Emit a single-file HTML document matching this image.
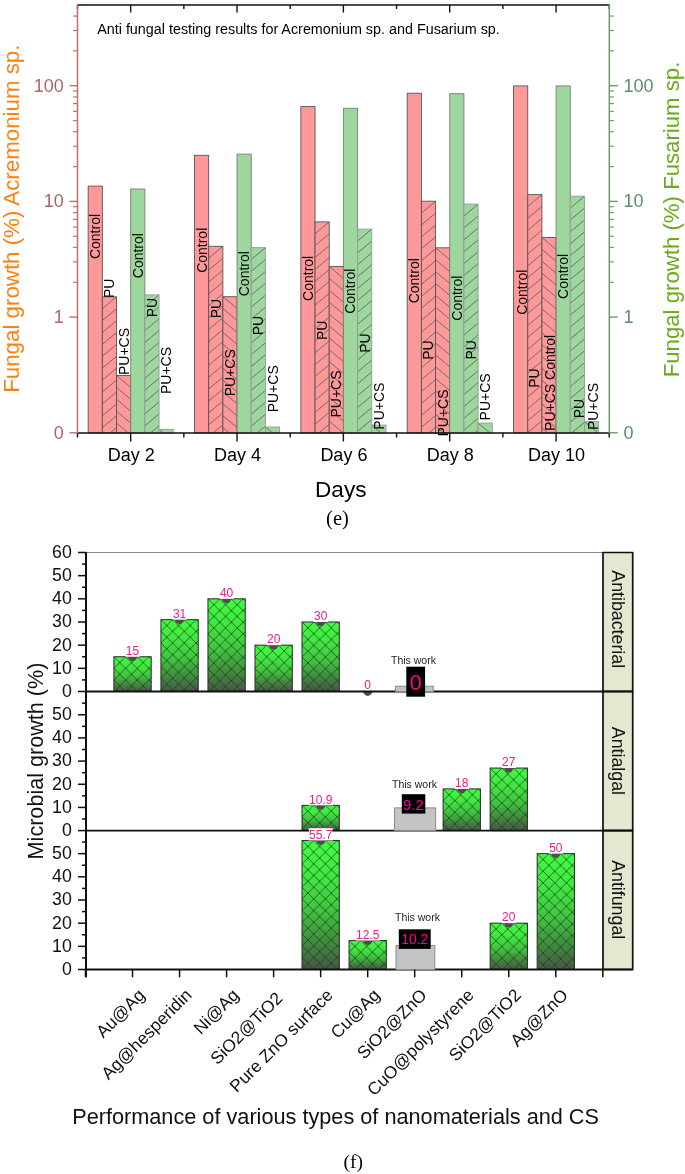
<!DOCTYPE html>
<html><head><meta charset="utf-8"><style>
html,body{margin:0;padding:0;background:#fff;overflow:hidden;width:685px;height:1174px;}
svg{display:block;will-change:transform;}
text{font-family:"Liberation Sans", sans-serif;}
</style></head><body>
<svg width="685" height="1174" viewBox="0 0 685 1174" font-family='"Liberation Sans", sans-serif'>
<defs><clipPath id="c01"><rect x="102.34" y="296.8" width="14.18" height="136.2"/></clipPath><clipPath id="c02"><rect x="116.52" y="375.5" width="14.18" height="57.5"/></clipPath><clipPath id="c04"><rect x="144.88" y="294.9" width="14.18" height="138.1"/></clipPath><clipPath id="c05"><rect x="159.06" y="429.3" width="14.18" height="3.7"/></clipPath><clipPath id="c11"><rect x="208.69" y="246.3" width="14.18" height="186.7"/></clipPath><clipPath id="c12"><rect x="222.87" y="296.7" width="14.18" height="136.3"/></clipPath><clipPath id="c14"><rect x="251.23" y="247.6" width="14.18" height="185.4"/></clipPath><clipPath id="c15"><rect x="265.41" y="427" width="14.18" height="6"/></clipPath><clipPath id="c21"><rect x="315.04" y="221.9" width="14.18" height="211.1"/></clipPath><clipPath id="c22"><rect x="329.22" y="266.5" width="14.18" height="166.5"/></clipPath><clipPath id="c24"><rect x="357.58" y="229.1" width="14.18" height="203.9"/></clipPath><clipPath id="c25"><rect x="371.76" y="425.1" width="14.18" height="7.9"/></clipPath><clipPath id="c31"><rect x="421.39" y="201.2" width="14.18" height="231.8"/></clipPath><clipPath id="c32"><rect x="435.57" y="247.8" width="14.18" height="185.2"/></clipPath><clipPath id="c34"><rect x="463.93" y="204.1" width="14.18" height="228.9"/></clipPath><clipPath id="c35"><rect x="478.11" y="423.1" width="14.18" height="9.9"/></clipPath><clipPath id="c41"><rect x="527.74" y="194.6" width="14.18" height="238.4"/></clipPath><clipPath id="c42"><rect x="541.92" y="237.5" width="14.18" height="195.5"/></clipPath><clipPath id="c44"><rect x="570.28" y="196.2" width="14.18" height="236.8"/></clipPath><clipPath id="c45"><rect x="584.46" y="421.6" width="14.18" height="11.4"/></clipPath><linearGradient id="gg" x1="0" y1="0" x2="0" y2="1"><stop offset="0" stop-color="#42fc42"/><stop offset="0.3" stop-color="#41e441"/><stop offset="0.55" stop-color="#40c440"/><stop offset="0.8" stop-color="#42883f"/><stop offset="1" stop-color="#485548"/></linearGradient><pattern id="xh" patternUnits="userSpaceOnUse" width="11.7" height="11.7" x="0.7" y="-2.5"><path d="M0 0L11.7 11.7M11.7 0L0 11.7M-1 1L1 -1M10.7 12.7L12.7 10.7M-1 10.7L1 12.7M10.7 -1L12.7 1" stroke="#1a3a1a" stroke-width="0.72" fill="none"/></pattern><pattern id="xh0_0" patternUnits="userSpaceOnUse" width="11.7" height="11.7" x="113.9" y="656.75"><path d="M0 0L11.7 11.7M11.7 0L0 11.7M-1 1L1 -1M10.7 12.7L12.7 10.7M-1 10.7L1 12.7M10.7 -1L12.7 1" stroke="#1a3a1a" stroke-width="0.72" fill="none"/></pattern><pattern id="xh0_1" patternUnits="userSpaceOnUse" width="11.7" height="11.7" x="160.93" y="619.67"><path d="M0 0L11.7 11.7M11.7 0L0 11.7M-1 1L1 -1M10.7 12.7L12.7 10.7M-1 10.7L1 12.7M10.7 -1L12.7 1" stroke="#1a3a1a" stroke-width="0.72" fill="none"/></pattern><pattern id="xh0_2" patternUnits="userSpaceOnUse" width="11.7" height="11.7" x="207.96" y="598.82"><path d="M0 0L11.7 11.7M11.7 0L0 11.7M-1 1L1 -1M10.7 12.7L12.7 10.7M-1 10.7L1 12.7M10.7 -1L12.7 1" stroke="#1a3a1a" stroke-width="0.72" fill="none"/></pattern><pattern id="xh0_3" patternUnits="userSpaceOnUse" width="11.7" height="11.7" x="254.99" y="645.16"><path d="M0 0L11.7 11.7M11.7 0L0 11.7M-1 1L1 -1M10.7 12.7L12.7 10.7M-1 10.7L1 12.7M10.7 -1L12.7 1" stroke="#1a3a1a" stroke-width="0.72" fill="none"/></pattern><pattern id="xh0_4" patternUnits="userSpaceOnUse" width="11.7" height="11.7" x="302.02" y="621.99"><path d="M0 0L11.7 11.7M11.7 0L0 11.7M-1 1L1 -1M10.7 12.7L12.7 10.7M-1 10.7L1 12.7M10.7 -1L12.7 1" stroke="#1a3a1a" stroke-width="0.72" fill="none"/></pattern><pattern id="xh1_4" patternUnits="userSpaceOnUse" width="11.7" height="11.7" x="302.02" y="805.34"><path d="M0 0L11.7 11.7M11.7 0L0 11.7M-1 1L1 -1M10.7 12.7L12.7 10.7M-1 10.7L1 12.7M10.7 -1L12.7 1" stroke="#1a3a1a" stroke-width="0.72" fill="none"/></pattern><pattern id="xh1_7" patternUnits="userSpaceOnUse" width="11.7" height="11.7" x="443.11" y="788.89"><path d="M0 0L11.7 11.7M11.7 0L0 11.7M-1 1L1 -1M10.7 12.7L12.7 10.7M-1 10.7L1 12.7M10.7 -1L12.7 1" stroke="#1a3a1a" stroke-width="0.72" fill="none"/></pattern><pattern id="xh1_8" patternUnits="userSpaceOnUse" width="11.7" height="11.7" x="490.14" y="768.04"><path d="M0 0L11.7 11.7M11.7 0L0 11.7M-1 1L1 -1M10.7 12.7L12.7 10.7M-1 10.7L1 12.7M10.7 -1L12.7 1" stroke="#1a3a1a" stroke-width="0.72" fill="none"/></pattern><pattern id="xh2_4" patternUnits="userSpaceOnUse" width="11.7" height="11.7" x="302.02" y="840.44"><path d="M0 0L11.7 11.7M11.7 0L0 11.7M-1 1L1 -1M10.7 12.7L12.7 10.7M-1 10.7L1 12.7M10.7 -1L12.7 1" stroke="#1a3a1a" stroke-width="0.72" fill="none"/></pattern><pattern id="xh2_5" patternUnits="userSpaceOnUse" width="11.7" height="11.7" x="349.05" y="940.54"><path d="M0 0L11.7 11.7M11.7 0L0 11.7M-1 1L1 -1M10.7 12.7L12.7 10.7M-1 10.7L1 12.7M10.7 -1L12.7 1" stroke="#1a3a1a" stroke-width="0.72" fill="none"/></pattern><pattern id="xh2_8" patternUnits="userSpaceOnUse" width="11.7" height="11.7" x="490.14" y="923.16"><path d="M0 0L11.7 11.7M11.7 0L0 11.7M-1 1L1 -1M10.7 12.7L12.7 10.7M-1 10.7L1 12.7M10.7 -1L12.7 1" stroke="#1a3a1a" stroke-width="0.72" fill="none"/></pattern><pattern id="xh2_9" patternUnits="userSpaceOnUse" width="11.7" height="11.7" x="537.17" y="853.65"><path d="M0 0L11.7 11.7M11.7 0L0 11.7M-1 1L1 -1M10.7 12.7L12.7 10.7M-1 10.7L1 12.7M10.7 -1L12.7 1" stroke="#1a3a1a" stroke-width="0.72" fill="none"/></pattern></defs>
<rect width="685" height="1174" fill="#fff"/>
<g id="top">
<rect x="88.16" y="186.1" width="14.18" height="246.9" fill="#ff9898"/>
<rect x="88.16" y="186.1" width="14.18" height="246.9" fill="none" stroke="#555" stroke-width="0.9"/>
<rect x="102.34" y="296.8" width="14.18" height="136.2" fill="#ff9898"/>
<path d="M102.34 296.8L116.52 284.9M102.34 308.7L116.52 296.8M102.34 320.6L116.52 308.7M102.34 332.5L116.52 320.6M102.34 344.4L116.52 332.5M102.34 356.3L116.52 344.4M102.34 368.2L116.52 356.3M102.34 380.1L116.52 368.2M102.34 392L116.52 380.1M102.34 403.9L116.52 392M102.34 415.8L116.52 403.9M102.34 427.7L116.52 415.8M102.34 439.6L116.52 427.7M102.34 451.5L116.52 439.6" stroke="#5a5a5a" stroke-width="0.8" fill="none" clip-path="url(#c01)"/>
<rect x="102.34" y="296.8" width="14.18" height="136.2" fill="none" stroke="#555" stroke-width="0.9"/>
<rect x="116.52" y="375.5" width="14.18" height="57.5" fill="#ff9898"/>
<path d="M116.52 363.6L130.7 375.5M116.52 375.5L130.7 387.4M116.52 387.4L130.7 399.3M116.52 399.3L130.7 411.2M116.52 411.2L130.7 423.1M116.52 423.1L130.7 435M116.52 435L130.7 446.9" stroke="#5a5a5a" stroke-width="0.8" fill="none" clip-path="url(#c02)"/>
<rect x="116.52" y="375.5" width="14.18" height="57.5" fill="none" stroke="#555" stroke-width="0.9"/>
<rect x="130.7" y="189" width="14.18" height="244" fill="#9dd79d"/>
<rect x="130.7" y="189" width="14.18" height="244" fill="none" stroke="#7c7c7c" stroke-width="0.9"/>
<rect x="144.88" y="294.9" width="14.18" height="138.1" fill="#9dd79d"/>
<path d="M144.88 294.9L159.06 283M144.88 306.8L159.06 294.9M144.88 318.7L159.06 306.8M144.88 330.6L159.06 318.7M144.88 342.5L159.06 330.6M144.88 354.4L159.06 342.5M144.88 366.3L159.06 354.4M144.88 378.2L159.06 366.3M144.88 390.1L159.06 378.2M144.88 402L159.06 390.1M144.88 413.9L159.06 402M144.88 425.8L159.06 413.9M144.88 437.7L159.06 425.8M144.88 449.6L159.06 437.7" stroke="#5a5a5a" stroke-width="0.8" fill="none" clip-path="url(#c04)"/>
<rect x="144.88" y="294.9" width="14.18" height="138.1" fill="none" stroke="#9a9a9a" stroke-width="0.9"/>
<rect x="159.06" y="429.3" width="14.18" height="3.7" fill="#9dd79d"/>
<path d="M159.06 417.4L173.24 429.3M159.06 429.3L173.24 441.2M159.06 441.2L173.24 453.1" stroke="#5a5a5a" stroke-width="0.8" fill="none" clip-path="url(#c05)"/>
<rect x="159.06" y="429.3" width="14.18" height="3.7" fill="none" stroke="#9a9a9a" stroke-width="0.9"/>
<rect x="194.51" y="155.3" width="14.18" height="277.7" fill="#ff9898"/>
<rect x="194.51" y="155.3" width="14.18" height="277.7" fill="none" stroke="#555" stroke-width="0.9"/>
<rect x="208.69" y="246.3" width="14.18" height="186.7" fill="#ff9898"/>
<path d="M208.69 246.3L222.87 234.4M208.69 258.2L222.87 246.3M208.69 270.1L222.87 258.2M208.69 282L222.87 270.1M208.69 293.9L222.87 282M208.69 305.8L222.87 293.9M208.69 317.7L222.87 305.8M208.69 329.6L222.87 317.7M208.69 341.5L222.87 329.6M208.69 353.4L222.87 341.5M208.69 365.3L222.87 353.4M208.69 377.2L222.87 365.3M208.69 389.1L222.87 377.2M208.69 401L222.87 389.1M208.69 412.9L222.87 401M208.69 424.8L222.87 412.9M208.69 436.7L222.87 424.8M208.69 448.6L222.87 436.7" stroke="#5a5a5a" stroke-width="0.8" fill="none" clip-path="url(#c11)"/>
<rect x="208.69" y="246.3" width="14.18" height="186.7" fill="none" stroke="#555" stroke-width="0.9"/>
<rect x="222.87" y="296.7" width="14.18" height="136.3" fill="#ff9898"/>
<path d="M222.87 284.8L237.05 296.7M222.87 296.7L237.05 308.6M222.87 308.6L237.05 320.5M222.87 320.5L237.05 332.4M222.87 332.4L237.05 344.3M222.87 344.3L237.05 356.2M222.87 356.2L237.05 368.1M222.87 368.1L237.05 380M222.87 380L237.05 391.9M222.87 391.9L237.05 403.8M222.87 403.8L237.05 415.7M222.87 415.7L237.05 427.6M222.87 427.6L237.05 439.5M222.87 439.5L237.05 451.4" stroke="#5a5a5a" stroke-width="0.8" fill="none" clip-path="url(#c12)"/>
<rect x="222.87" y="296.7" width="14.18" height="136.3" fill="none" stroke="#555" stroke-width="0.9"/>
<rect x="237.05" y="154.1" width="14.18" height="278.9" fill="#9dd79d"/>
<rect x="237.05" y="154.1" width="14.18" height="278.9" fill="none" stroke="#7c7c7c" stroke-width="0.9"/>
<rect x="251.23" y="247.6" width="14.18" height="185.4" fill="#9dd79d"/>
<path d="M251.23 247.6L265.41 235.7M251.23 259.5L265.41 247.6M251.23 271.4L265.41 259.5M251.23 283.3L265.41 271.4M251.23 295.2L265.41 283.3M251.23 307.1L265.41 295.2M251.23 319L265.41 307.1M251.23 330.9L265.41 319M251.23 342.8L265.41 330.9M251.23 354.7L265.41 342.8M251.23 366.6L265.41 354.7M251.23 378.5L265.41 366.6M251.23 390.4L265.41 378.5M251.23 402.3L265.41 390.4M251.23 414.2L265.41 402.3M251.23 426.1L265.41 414.2M251.23 438L265.41 426.1M251.23 449.9L265.41 438" stroke="#5a5a5a" stroke-width="0.8" fill="none" clip-path="url(#c14)"/>
<rect x="251.23" y="247.6" width="14.18" height="185.4" fill="none" stroke="#9a9a9a" stroke-width="0.9"/>
<rect x="265.41" y="427" width="14.18" height="6" fill="#9dd79d"/>
<path d="M265.41 415.1L279.59 427M265.41 427L279.59 438.9M265.41 438.9L279.59 450.8" stroke="#5a5a5a" stroke-width="0.8" fill="none" clip-path="url(#c15)"/>
<rect x="265.41" y="427" width="14.18" height="6" fill="none" stroke="#9a9a9a" stroke-width="0.9"/>
<rect x="300.86" y="106.6" width="14.18" height="326.4" fill="#ff9898"/>
<rect x="300.86" y="106.6" width="14.18" height="326.4" fill="none" stroke="#555" stroke-width="0.9"/>
<rect x="315.04" y="221.9" width="14.18" height="211.1" fill="#ff9898"/>
<path d="M315.04 221.9L329.22 210M315.04 233.8L329.22 221.9M315.04 245.7L329.22 233.8M315.04 257.6L329.22 245.7M315.04 269.5L329.22 257.6M315.04 281.4L329.22 269.5M315.04 293.3L329.22 281.4M315.04 305.2L329.22 293.3M315.04 317.1L329.22 305.2M315.04 329L329.22 317.1M315.04 340.9L329.22 329M315.04 352.8L329.22 340.9M315.04 364.7L329.22 352.8M315.04 376.6L329.22 364.7M315.04 388.5L329.22 376.6M315.04 400.4L329.22 388.5M315.04 412.3L329.22 400.4M315.04 424.2L329.22 412.3M315.04 436.1L329.22 424.2M315.04 448L329.22 436.1" stroke="#5a5a5a" stroke-width="0.8" fill="none" clip-path="url(#c21)"/>
<rect x="315.04" y="221.9" width="14.18" height="211.1" fill="none" stroke="#555" stroke-width="0.9"/>
<rect x="329.22" y="266.5" width="14.18" height="166.5" fill="#ff9898"/>
<path d="M329.22 254.6L343.4 266.5M329.22 266.5L343.4 278.4M329.22 278.4L343.4 290.3M329.22 290.3L343.4 302.2M329.22 302.2L343.4 314.1M329.22 314.1L343.4 326M329.22 326L343.4 337.9M329.22 337.9L343.4 349.8M329.22 349.8L343.4 361.7M329.22 361.7L343.4 373.6M329.22 373.6L343.4 385.5M329.22 385.5L343.4 397.4M329.22 397.4L343.4 409.3M329.22 409.3L343.4 421.2M329.22 421.2L343.4 433.1M329.22 433.1L343.4 445" stroke="#5a5a5a" stroke-width="0.8" fill="none" clip-path="url(#c22)"/>
<rect x="329.22" y="266.5" width="14.18" height="166.5" fill="none" stroke="#555" stroke-width="0.9"/>
<rect x="343.4" y="108.3" width="14.18" height="324.7" fill="#9dd79d"/>
<rect x="343.4" y="108.3" width="14.18" height="324.7" fill="none" stroke="#7c7c7c" stroke-width="0.9"/>
<rect x="357.58" y="229.1" width="14.18" height="203.9" fill="#9dd79d"/>
<path d="M357.58 229.1L371.76 217.2M357.58 241L371.76 229.1M357.58 252.9L371.76 241M357.58 264.8L371.76 252.9M357.58 276.7L371.76 264.8M357.58 288.6L371.76 276.7M357.58 300.5L371.76 288.6M357.58 312.4L371.76 300.5M357.58 324.3L371.76 312.4M357.58 336.2L371.76 324.3M357.58 348.1L371.76 336.2M357.58 360L371.76 348.1M357.58 371.9L371.76 360M357.58 383.8L371.76 371.9M357.58 395.7L371.76 383.8M357.58 407.6L371.76 395.7M357.58 419.5L371.76 407.6M357.58 431.4L371.76 419.5M357.58 443.3L371.76 431.4M357.58 455.2L371.76 443.3" stroke="#5a5a5a" stroke-width="0.8" fill="none" clip-path="url(#c24)"/>
<rect x="357.58" y="229.1" width="14.18" height="203.9" fill="none" stroke="#9a9a9a" stroke-width="0.9"/>
<rect x="371.76" y="425.1" width="14.18" height="7.9" fill="#9dd79d"/>
<path d="M371.76 413.2L385.94 425.1M371.76 425.1L385.94 437M371.76 437L385.94 448.9" stroke="#5a5a5a" stroke-width="0.8" fill="none" clip-path="url(#c25)"/>
<rect x="371.76" y="425.1" width="14.18" height="7.9" fill="none" stroke="#9a9a9a" stroke-width="0.9"/>
<rect x="407.21" y="93.2" width="14.18" height="339.8" fill="#ff9898"/>
<rect x="407.21" y="93.2" width="14.18" height="339.8" fill="none" stroke="#555" stroke-width="0.9"/>
<rect x="421.39" y="201.2" width="14.18" height="231.8" fill="#ff9898"/>
<path d="M421.39 201.2L435.57 189.3M421.39 213.1L435.57 201.2M421.39 225L435.57 213.1M421.39 236.9L435.57 225M421.39 248.8L435.57 236.9M421.39 260.7L435.57 248.8M421.39 272.6L435.57 260.7M421.39 284.5L435.57 272.6M421.39 296.4L435.57 284.5M421.39 308.3L435.57 296.4M421.39 320.2L435.57 308.3M421.39 332.1L435.57 320.2M421.39 344L435.57 332.1M421.39 355.9L435.57 344M421.39 367.8L435.57 355.9M421.39 379.7L435.57 367.8M421.39 391.6L435.57 379.7M421.39 403.5L435.57 391.6M421.39 415.4L435.57 403.5M421.39 427.3L435.57 415.4M421.39 439.2L435.57 427.3M421.39 451.1L435.57 439.2" stroke="#5a5a5a" stroke-width="0.8" fill="none" clip-path="url(#c31)"/>
<rect x="421.39" y="201.2" width="14.18" height="231.8" fill="none" stroke="#555" stroke-width="0.9"/>
<rect x="435.57" y="247.8" width="14.18" height="185.2" fill="#ff9898"/>
<path d="M435.57 235.9L449.75 247.8M435.57 247.8L449.75 259.7M435.57 259.7L449.75 271.6M435.57 271.6L449.75 283.5M435.57 283.5L449.75 295.4M435.57 295.4L449.75 307.3M435.57 307.3L449.75 319.2M435.57 319.2L449.75 331.1M435.57 331.1L449.75 343M435.57 343L449.75 354.9M435.57 354.9L449.75 366.8M435.57 366.8L449.75 378.7M435.57 378.7L449.75 390.6M435.57 390.6L449.75 402.5M435.57 402.5L449.75 414.4M435.57 414.4L449.75 426.3M435.57 426.3L449.75 438.2M435.57 438.2L449.75 450.1" stroke="#5a5a5a" stroke-width="0.8" fill="none" clip-path="url(#c32)"/>
<rect x="435.57" y="247.8" width="14.18" height="185.2" fill="none" stroke="#555" stroke-width="0.9"/>
<rect x="449.75" y="93.7" width="14.18" height="339.3" fill="#9dd79d"/>
<rect x="449.75" y="93.7" width="14.18" height="339.3" fill="none" stroke="#7c7c7c" stroke-width="0.9"/>
<rect x="463.93" y="204.1" width="14.18" height="228.9" fill="#9dd79d"/>
<path d="M463.93 204.1L478.11 192.2M463.93 216L478.11 204.1M463.93 227.9L478.11 216M463.93 239.8L478.11 227.9M463.93 251.7L478.11 239.8M463.93 263.6L478.11 251.7M463.93 275.5L478.11 263.6M463.93 287.4L478.11 275.5M463.93 299.3L478.11 287.4M463.93 311.2L478.11 299.3M463.93 323.1L478.11 311.2M463.93 335L478.11 323.1M463.93 346.9L478.11 335M463.93 358.8L478.11 346.9M463.93 370.7L478.11 358.8M463.93 382.6L478.11 370.7M463.93 394.5L478.11 382.6M463.93 406.4L478.11 394.5M463.93 418.3L478.11 406.4M463.93 430.2L478.11 418.3M463.93 442.1L478.11 430.2M463.93 454L478.11 442.1" stroke="#5a5a5a" stroke-width="0.8" fill="none" clip-path="url(#c34)"/>
<rect x="463.93" y="204.1" width="14.18" height="228.9" fill="none" stroke="#9a9a9a" stroke-width="0.9"/>
<rect x="478.11" y="423.1" width="14.18" height="9.9" fill="#9dd79d"/>
<path d="M478.11 411.2L492.29 423.1M478.11 423.1L492.29 435M478.11 435L492.29 446.9" stroke="#5a5a5a" stroke-width="0.8" fill="none" clip-path="url(#c35)"/>
<rect x="478.11" y="423.1" width="14.18" height="9.9" fill="none" stroke="#9a9a9a" stroke-width="0.9"/>
<rect x="513.56" y="85.9" width="14.18" height="347.1" fill="#ff9898"/>
<rect x="513.56" y="85.9" width="14.18" height="347.1" fill="none" stroke="#555" stroke-width="0.9"/>
<rect x="527.74" y="194.6" width="14.18" height="238.4" fill="#ff9898"/>
<path d="M527.74 194.6L541.92 182.7M527.74 206.5L541.92 194.6M527.74 218.4L541.92 206.5M527.74 230.3L541.92 218.4M527.74 242.2L541.92 230.3M527.74 254.1L541.92 242.2M527.74 266L541.92 254.1M527.74 277.9L541.92 266M527.74 289.8L541.92 277.9M527.74 301.7L541.92 289.8M527.74 313.6L541.92 301.7M527.74 325.5L541.92 313.6M527.74 337.4L541.92 325.5M527.74 349.3L541.92 337.4M527.74 361.2L541.92 349.3M527.74 373.1L541.92 361.2M527.74 385L541.92 373.1M527.74 396.9L541.92 385M527.74 408.8L541.92 396.9M527.74 420.7L541.92 408.8M527.74 432.6L541.92 420.7M527.74 444.5L541.92 432.6M527.74 456.4L541.92 444.5" stroke="#5a5a5a" stroke-width="0.8" fill="none" clip-path="url(#c41)"/>
<rect x="527.74" y="194.6" width="14.18" height="238.4" fill="none" stroke="#555" stroke-width="0.9"/>
<rect x="541.92" y="237.5" width="14.18" height="195.5" fill="#ff9898"/>
<path d="M541.92 225.6L556.1 237.5M541.92 237.5L556.1 249.4M541.92 249.4L556.1 261.3M541.92 261.3L556.1 273.2M541.92 273.2L556.1 285.1M541.92 285.1L556.1 297M541.92 297L556.1 308.9M541.92 308.9L556.1 320.8M541.92 320.8L556.1 332.7M541.92 332.7L556.1 344.6M541.92 344.6L556.1 356.5M541.92 356.5L556.1 368.4M541.92 368.4L556.1 380.3M541.92 380.3L556.1 392.2M541.92 392.2L556.1 404.1M541.92 404.1L556.1 416M541.92 416L556.1 427.9M541.92 427.9L556.1 439.8M541.92 439.8L556.1 451.7" stroke="#5a5a5a" stroke-width="0.8" fill="none" clip-path="url(#c42)"/>
<rect x="541.92" y="237.5" width="14.18" height="195.5" fill="none" stroke="#555" stroke-width="0.9"/>
<rect x="556.1" y="85.9" width="14.18" height="347.1" fill="#9dd79d"/>
<rect x="556.1" y="85.9" width="14.18" height="347.1" fill="none" stroke="#7c7c7c" stroke-width="0.9"/>
<rect x="570.28" y="196.2" width="14.18" height="236.8" fill="#9dd79d"/>
<path d="M570.28 196.2L584.46 184.3M570.28 208.1L584.46 196.2M570.28 220L584.46 208.1M570.28 231.9L584.46 220M570.28 243.8L584.46 231.9M570.28 255.7L584.46 243.8M570.28 267.6L584.46 255.7M570.28 279.5L584.46 267.6M570.28 291.4L584.46 279.5M570.28 303.3L584.46 291.4M570.28 315.2L584.46 303.3M570.28 327.1L584.46 315.2M570.28 339L584.46 327.1M570.28 350.9L584.46 339M570.28 362.8L584.46 350.9M570.28 374.7L584.46 362.8M570.28 386.6L584.46 374.7M570.28 398.5L584.46 386.6M570.28 410.4L584.46 398.5M570.28 422.3L584.46 410.4M570.28 434.2L584.46 422.3M570.28 446.1L584.46 434.2" stroke="#5a5a5a" stroke-width="0.8" fill="none" clip-path="url(#c44)"/>
<rect x="570.28" y="196.2" width="14.18" height="236.8" fill="none" stroke="#9a9a9a" stroke-width="0.9"/>
<rect x="584.46" y="421.6" width="14.18" height="11.4" fill="#9dd79d"/>
<path d="M584.46 409.7L598.64 421.6M584.46 421.6L598.64 433.5M584.46 433.5L598.64 445.4" stroke="#5a5a5a" stroke-width="0.8" fill="none" clip-path="url(#c45)"/>
<rect x="584.46" y="421.6" width="14.18" height="11.4" fill="none" stroke="#9a9a9a" stroke-width="0.9"/>
<text transform="translate(95.25,236.5) rotate(-90)" x="0" y="5" font-size="14" text-anchor="middle">Control</text>
<text transform="translate(109.43,288.25) rotate(-90)" x="0" y="5" font-size="14" text-anchor="middle">PU</text>
<text transform="translate(123.61,351.5) rotate(-90)" x="0" y="5" font-size="14" text-anchor="middle">PU+CS</text>
<text transform="translate(137.79,255.65) rotate(-90)" x="0" y="5" font-size="14" text-anchor="middle">Control</text>
<text transform="translate(151.97,307.5) rotate(-90)" x="0" y="5" font-size="14" text-anchor="middle">PU</text>
<text transform="translate(166.15,370.5) rotate(-90)" x="0" y="5" font-size="14" text-anchor="middle">PU+CS</text>
<text transform="translate(201.6,250.3) rotate(-90)" x="0" y="5" font-size="14" text-anchor="middle">Control</text>
<text transform="translate(215.78,308.65) rotate(-90)" x="0" y="5" font-size="14" text-anchor="middle">PU</text>
<text transform="translate(229.96,372.75) rotate(-90)" x="0" y="5" font-size="14" text-anchor="middle">PU+CS</text>
<text transform="translate(244.14,273.7) rotate(-90)" x="0" y="5" font-size="14" text-anchor="middle">Control</text>
<text transform="translate(258.32,325.55) rotate(-90)" x="0" y="5" font-size="14" text-anchor="middle">PU</text>
<text transform="translate(272.5,388.8) rotate(-90)" x="0" y="5" font-size="14" text-anchor="middle">PU+CS</text>
<text transform="translate(307.95,278.35) rotate(-90)" x="0" y="5" font-size="14" text-anchor="middle">Control</text>
<text transform="translate(322.13,330.35) rotate(-90)" x="0" y="5" font-size="14" text-anchor="middle">PU</text>
<text transform="translate(336.31,394) rotate(-90)" x="0" y="5" font-size="14" text-anchor="middle">PU+CS</text>
<text transform="translate(350.49,291.25) rotate(-90)" x="0" y="5" font-size="14" text-anchor="middle">Control</text>
<text transform="translate(364.67,343.05) rotate(-90)" x="0" y="5" font-size="14" text-anchor="middle">PU</text>
<text transform="translate(378.85,406.15) rotate(-90)" x="0" y="5" font-size="14" text-anchor="middle">PU+CS</text>
<text transform="translate(414.3,280.75) rotate(-90)" x="0" y="5" font-size="14" text-anchor="middle">Control</text>
<text transform="translate(428.48,350.15) rotate(-90)" x="0" y="5" font-size="14" text-anchor="middle">PU</text>
<text transform="translate(442.66,413.05) rotate(-90)" x="0" y="5" font-size="14" text-anchor="middle">PU+CS</text>
<text transform="translate(456.84,298.15) rotate(-90)" x="0" y="5" font-size="14" text-anchor="middle">Control</text>
<text transform="translate(471.02,349.75) rotate(-90)" x="0" y="5" font-size="14" text-anchor="middle">PU</text>
<text transform="translate(485.2,396.85) rotate(-90)" x="0" y="5" font-size="14" text-anchor="middle">PU+CS</text>
<text transform="translate(522.15,292.25) rotate(-90)" x="0" y="5" font-size="14" text-anchor="middle">Control</text>
<text transform="translate(534.33,378.15) rotate(-90)" x="0" y="5" font-size="14" text-anchor="middle">PU</text>
<text transform="translate(550.41,382.9) rotate(-90)" x="0" y="5" font-size="14" text-anchor="middle">PU+CS Control</text>
<text transform="translate(563.19,276.4) rotate(-90)" x="0" y="5" font-size="14" text-anchor="middle">Control</text>
<text transform="translate(578.87,408.6) rotate(-90)" x="0" y="5" font-size="14" text-anchor="middle">PU</text>
<text transform="translate(593.45,406.55) rotate(-90)" x="0" y="5" font-size="14" text-anchor="middle">PU+CS</text>
<line x1="77.5" y1="5.0" x2="609.3" y2="5.0" stroke="#111" stroke-width="1.7"/>
<line x1="77.5" y1="433.0" x2="609.3" y2="433.0" stroke="#111" stroke-width="1.6"/>
<line x1="77.5" y1="5.0" x2="77.5" y2="9" stroke="#111" stroke-width="1.4"/>
<line x1="77.5" y1="433.0" x2="77.5" y2="437.5" stroke="#111" stroke-width="1.4"/>
<line x1="130.68" y1="5.0" x2="130.68" y2="12.5" stroke="#111" stroke-width="1.4"/>
<line x1="130.68" y1="433.0" x2="130.68" y2="441.5" stroke="#111" stroke-width="1.4"/>
<line x1="183.85" y1="5.0" x2="183.85" y2="9" stroke="#111" stroke-width="1.4"/>
<line x1="183.85" y1="433.0" x2="183.85" y2="437.5" stroke="#111" stroke-width="1.4"/>
<line x1="237.02" y1="5.0" x2="237.02" y2="12.5" stroke="#111" stroke-width="1.4"/>
<line x1="237.02" y1="433.0" x2="237.02" y2="441.5" stroke="#111" stroke-width="1.4"/>
<line x1="290.2" y1="5.0" x2="290.2" y2="9" stroke="#111" stroke-width="1.4"/>
<line x1="290.2" y1="433.0" x2="290.2" y2="437.5" stroke="#111" stroke-width="1.4"/>
<line x1="343.38" y1="5.0" x2="343.38" y2="12.5" stroke="#111" stroke-width="1.4"/>
<line x1="343.38" y1="433.0" x2="343.38" y2="441.5" stroke="#111" stroke-width="1.4"/>
<line x1="396.55" y1="5.0" x2="396.55" y2="9" stroke="#111" stroke-width="1.4"/>
<line x1="396.55" y1="433.0" x2="396.55" y2="437.5" stroke="#111" stroke-width="1.4"/>
<line x1="449.72" y1="5.0" x2="449.72" y2="12.5" stroke="#111" stroke-width="1.4"/>
<line x1="449.72" y1="433.0" x2="449.72" y2="441.5" stroke="#111" stroke-width="1.4"/>
<line x1="502.9" y1="5.0" x2="502.9" y2="9" stroke="#111" stroke-width="1.4"/>
<line x1="502.9" y1="433.0" x2="502.9" y2="437.5" stroke="#111" stroke-width="1.4"/>
<line x1="556.08" y1="5.0" x2="556.08" y2="12.5" stroke="#111" stroke-width="1.4"/>
<line x1="556.08" y1="433.0" x2="556.08" y2="441.5" stroke="#111" stroke-width="1.4"/>
<line x1="609.25" y1="5.0" x2="609.25" y2="9" stroke="#111" stroke-width="1.4"/>
<line x1="609.25" y1="433.0" x2="609.25" y2="437.5" stroke="#111" stroke-width="1.4"/>
<line x1="77.5" y1="4.2" x2="77.5" y2="433.0" stroke="#b87272" stroke-width="1.5"/>
<line x1="609.3" y1="4.2" x2="609.3" y2="433.0" stroke="#6d9a6d" stroke-width="1.5"/>
<line x1="69.5" y1="85.7" x2="77.5" y2="85.7" stroke="#b87272" stroke-width="1.4"/>
<line x1="609.3" y1="85.7" x2="617.8" y2="85.7" stroke="#6d9a6d" stroke-width="1.4"/>
<text x="63.8" y="91.5" font-size="18" text-anchor="end" fill="#a86868">100</text>
<text x="623.4" y="91.5" font-size="18" fill="#5e8c6a">100</text>
<line x1="69.5" y1="201.4" x2="77.5" y2="201.4" stroke="#b87272" stroke-width="1.4"/>
<line x1="609.3" y1="201.4" x2="617.8" y2="201.4" stroke="#6d9a6d" stroke-width="1.4"/>
<text x="63.8" y="207.2" font-size="18" text-anchor="end" fill="#a86868">10</text>
<text x="623.4" y="207.2" font-size="18" fill="#5e8c6a">10</text>
<line x1="69.5" y1="317.1" x2="77.5" y2="317.1" stroke="#b87272" stroke-width="1.4"/>
<line x1="609.3" y1="317.1" x2="617.8" y2="317.1" stroke="#6d9a6d" stroke-width="1.4"/>
<text x="63.8" y="322.9" font-size="18" text-anchor="end" fill="#a86868">1</text>
<text x="623.4" y="322.9" font-size="18" fill="#5e8c6a">1</text>
<line x1="69.5" y1="432.8" x2="77.5" y2="432.8" stroke="#b87272" stroke-width="1.4"/>
<line x1="609.3" y1="432.8" x2="617.8" y2="432.8" stroke="#6d9a6d" stroke-width="1.4"/>
<text x="63.8" y="438.6" font-size="18" text-anchor="end" fill="#a86868">0</text>
<text x="623.4" y="438.6" font-size="18" fill="#5e8c6a">0</text>
<line x1="73.0" y1="50.87" x2="77.5" y2="50.87" stroke="#b87272" stroke-width="1.2"/>
<line x1="609.3" y1="50.87" x2="613.8" y2="50.87" stroke="#6d9a6d" stroke-width="1.2"/>
<line x1="73.0" y1="30.5" x2="77.5" y2="30.5" stroke="#b87272" stroke-width="1.2"/>
<line x1="609.3" y1="30.5" x2="613.8" y2="30.5" stroke="#6d9a6d" stroke-width="1.2"/>
<line x1="73.0" y1="16.04" x2="77.5" y2="16.04" stroke="#b87272" stroke-width="1.2"/>
<line x1="609.3" y1="16.04" x2="613.8" y2="16.04" stroke="#6d9a6d" stroke-width="1.2"/>
<line x1="73.0" y1="166.57" x2="77.5" y2="166.57" stroke="#b87272" stroke-width="1.2"/>
<line x1="609.3" y1="166.57" x2="613.8" y2="166.57" stroke="#6d9a6d" stroke-width="1.2"/>
<line x1="73.0" y1="146.2" x2="77.5" y2="146.2" stroke="#b87272" stroke-width="1.2"/>
<line x1="609.3" y1="146.2" x2="613.8" y2="146.2" stroke="#6d9a6d" stroke-width="1.2"/>
<line x1="73.0" y1="131.74" x2="77.5" y2="131.74" stroke="#b87272" stroke-width="1.2"/>
<line x1="609.3" y1="131.74" x2="613.8" y2="131.74" stroke="#6d9a6d" stroke-width="1.2"/>
<line x1="73.0" y1="120.53" x2="77.5" y2="120.53" stroke="#b87272" stroke-width="1.2"/>
<line x1="609.3" y1="120.53" x2="613.8" y2="120.53" stroke="#6d9a6d" stroke-width="1.2"/>
<line x1="73.0" y1="111.37" x2="77.5" y2="111.37" stroke="#b87272" stroke-width="1.2"/>
<line x1="609.3" y1="111.37" x2="613.8" y2="111.37" stroke="#6d9a6d" stroke-width="1.2"/>
<line x1="73.0" y1="103.62" x2="77.5" y2="103.62" stroke="#b87272" stroke-width="1.2"/>
<line x1="609.3" y1="103.62" x2="613.8" y2="103.62" stroke="#6d9a6d" stroke-width="1.2"/>
<line x1="73.0" y1="96.91" x2="77.5" y2="96.91" stroke="#b87272" stroke-width="1.2"/>
<line x1="609.3" y1="96.91" x2="613.8" y2="96.91" stroke="#6d9a6d" stroke-width="1.2"/>
<line x1="73.0" y1="90.99" x2="77.5" y2="90.99" stroke="#b87272" stroke-width="1.2"/>
<line x1="609.3" y1="90.99" x2="613.8" y2="90.99" stroke="#6d9a6d" stroke-width="1.2"/>
<line x1="73.0" y1="282.27" x2="77.5" y2="282.27" stroke="#b87272" stroke-width="1.2"/>
<line x1="609.3" y1="282.27" x2="613.8" y2="282.27" stroke="#6d9a6d" stroke-width="1.2"/>
<line x1="73.0" y1="261.9" x2="77.5" y2="261.9" stroke="#b87272" stroke-width="1.2"/>
<line x1="609.3" y1="261.9" x2="613.8" y2="261.9" stroke="#6d9a6d" stroke-width="1.2"/>
<line x1="73.0" y1="247.44" x2="77.5" y2="247.44" stroke="#b87272" stroke-width="1.2"/>
<line x1="609.3" y1="247.44" x2="613.8" y2="247.44" stroke="#6d9a6d" stroke-width="1.2"/>
<line x1="73.0" y1="236.23" x2="77.5" y2="236.23" stroke="#b87272" stroke-width="1.2"/>
<line x1="609.3" y1="236.23" x2="613.8" y2="236.23" stroke="#6d9a6d" stroke-width="1.2"/>
<line x1="73.0" y1="227.07" x2="77.5" y2="227.07" stroke="#b87272" stroke-width="1.2"/>
<line x1="609.3" y1="227.07" x2="613.8" y2="227.07" stroke="#6d9a6d" stroke-width="1.2"/>
<line x1="73.0" y1="219.32" x2="77.5" y2="219.32" stroke="#b87272" stroke-width="1.2"/>
<line x1="609.3" y1="219.32" x2="613.8" y2="219.32" stroke="#6d9a6d" stroke-width="1.2"/>
<line x1="73.0" y1="212.61" x2="77.5" y2="212.61" stroke="#b87272" stroke-width="1.2"/>
<line x1="609.3" y1="212.61" x2="613.8" y2="212.61" stroke="#6d9a6d" stroke-width="1.2"/>
<line x1="73.0" y1="206.69" x2="77.5" y2="206.69" stroke="#b87272" stroke-width="1.2"/>
<line x1="609.3" y1="206.69" x2="613.8" y2="206.69" stroke="#6d9a6d" stroke-width="1.2"/>
<text x="97.2" y="33.7" font-size="14.35">Anti fungal testing results for Acremonium sp. and Fusarium sp.</text>
<text transform="translate(18.7,392.8) rotate(-90)" font-size="22.3" fill="#ff8010">Fungal growth (%) Acremonium sp.</text>
<text transform="translate(678.6,377.3) rotate(-90)" font-size="22.2" fill="#6aab1a">Fungal growth (%) Fusarium sp.</text>
<text x="131.2" y="460.7" font-size="18" text-anchor="middle">Day 2</text>
<text x="237.55" y="460.7" font-size="18" text-anchor="middle">Day 4</text>
<text x="343.9" y="460.7" font-size="18" text-anchor="middle">Day 6</text>
<text x="450.25" y="460.7" font-size="18" text-anchor="middle">Day 8</text>
<text x="556.6" y="460.7" font-size="18" text-anchor="middle">Day 10</text>
<text x="340.8" y="497" font-size="22.6" text-anchor="middle">Days</text>
<text x="337.5" y="524.9" font-size="20.5" text-anchor="middle" style='font-family:"Liberation Serif", serif'>(e)</text>
</g>
<g id="bottom">
<line x1="86.0" y1="552.5" x2="603.0" y2="552.5" stroke="#8a8a8a" stroke-width="1"/>
<rect x="603.0" y="552.5" width="29.7" height="139" fill="#e3e9d0" stroke="#111" stroke-width="1.7" stroke-linejoin="round"/>
<rect x="603.0" y="691.5" width="29.7" height="139.1" fill="#e3e9d0" stroke="#111" stroke-width="1.7" stroke-linejoin="round"/>
<rect x="603.0" y="830.6" width="29.7" height="138.9" fill="#e3e9d0" stroke="#111" stroke-width="1.7" stroke-linejoin="round"/>
<text transform="translate(611.7,619.2) rotate(90)" font-size="17.8" text-anchor="middle" fill="#111">Antibacterial</text>
<text transform="translate(611.7,760.9) rotate(90)" font-size="17.8" text-anchor="middle" fill="#111">Antialgal</text>
<text transform="translate(611.7,899.7) rotate(90)" font-size="17.8" text-anchor="middle" fill="#111">Antifungal</text>
<rect x="113.9" y="656.75" width="37.3" height="34.75" fill="url(#gg)"/>
<rect x="113.9" y="656.75" width="37.3" height="34.75" fill="url(#xh0_0)"/>
<rect x="113.9" y="656.75" width="37.3" height="34.75" fill="none" stroke="#2a2a2a" stroke-width="1"/>
<circle cx="132.55" cy="656.75" r="4.4" fill="#4d4d4d"/>
<rect x="125.35" y="644.75" width="14.4" height="12" fill="#fff"/>
<text x="132.55" y="655.04" font-size="12" text-anchor="middle" fill="#ee1c8c">15</text>
<rect x="160.93" y="619.67" width="37.3" height="71.83" fill="url(#gg)"/>
<rect x="160.93" y="619.67" width="37.3" height="71.83" fill="url(#xh0_1)"/>
<rect x="160.93" y="619.67" width="37.3" height="71.83" fill="none" stroke="#2a2a2a" stroke-width="1"/>
<circle cx="179.58" cy="619.67" r="4.4" fill="#4d4d4d"/>
<rect x="172.38" y="607.67" width="14.4" height="12" fill="#fff"/>
<text x="179.58" y="617.97" font-size="12" text-anchor="middle" fill="#ee1c8c">31</text>
<rect x="207.96" y="598.82" width="37.3" height="92.68" fill="url(#gg)"/>
<rect x="207.96" y="598.82" width="37.3" height="92.68" fill="url(#xh0_2)"/>
<rect x="207.96" y="598.82" width="37.3" height="92.68" fill="none" stroke="#2a2a2a" stroke-width="1"/>
<circle cx="226.61" cy="598.82" r="4.4" fill="#4d4d4d"/>
<rect x="219.41" y="586.82" width="14.4" height="12" fill="#fff"/>
<text x="226.61" y="597.12" font-size="12" text-anchor="middle" fill="#ee1c8c">40</text>
<rect x="254.99" y="645.16" width="37.3" height="46.34" fill="url(#gg)"/>
<rect x="254.99" y="645.16" width="37.3" height="46.34" fill="url(#xh0_3)"/>
<rect x="254.99" y="645.16" width="37.3" height="46.34" fill="none" stroke="#2a2a2a" stroke-width="1"/>
<circle cx="273.64" cy="645.16" r="4.4" fill="#4d4d4d"/>
<rect x="266.44" y="633.16" width="14.4" height="12" fill="#fff"/>
<text x="273.64" y="643.46" font-size="12" text-anchor="middle" fill="#ee1c8c">20</text>
<rect x="302.02" y="621.99" width="37.3" height="69.51" fill="url(#gg)"/>
<rect x="302.02" y="621.99" width="37.3" height="69.51" fill="url(#xh0_4)"/>
<rect x="302.02" y="621.99" width="37.3" height="69.51" fill="none" stroke="#2a2a2a" stroke-width="1"/>
<circle cx="320.67" cy="621.99" r="4.4" fill="#4d4d4d"/>
<rect x="313.47" y="609.99" width="14.4" height="12" fill="#fff"/>
<text x="320.67" y="620.29" font-size="12" text-anchor="middle" fill="#ee1c8c">30</text>
<rect x="302.02" y="805.34" width="37.3" height="25.26" fill="url(#gg)"/>
<rect x="302.02" y="805.34" width="37.3" height="25.26" fill="url(#xh1_4)"/>
<rect x="302.02" y="805.34" width="37.3" height="25.26" fill="none" stroke="#2a2a2a" stroke-width="1"/>
<circle cx="320.67" cy="805.34" r="4.4" fill="#4d4d4d"/>
<rect x="308.42" y="793.34" width="24.5" height="12" fill="#fff"/>
<text x="320.67" y="803.64" font-size="12" text-anchor="middle" fill="#ee1c8c">10.9</text>
<rect x="443.11" y="788.89" width="37.3" height="41.71" fill="url(#gg)"/>
<rect x="443.11" y="788.89" width="37.3" height="41.71" fill="url(#xh1_7)"/>
<rect x="443.11" y="788.89" width="37.3" height="41.71" fill="none" stroke="#2a2a2a" stroke-width="1"/>
<circle cx="461.76" cy="788.89" r="4.4" fill="#4d4d4d"/>
<rect x="454.56" y="776.89" width="14.4" height="12" fill="#fff"/>
<text x="461.76" y="787.19" font-size="12" text-anchor="middle" fill="#ee1c8c">18</text>
<rect x="490.14" y="768.04" width="37.3" height="62.56" fill="url(#gg)"/>
<rect x="490.14" y="768.04" width="37.3" height="62.56" fill="url(#xh1_8)"/>
<rect x="490.14" y="768.04" width="37.3" height="62.56" fill="none" stroke="#2a2a2a" stroke-width="1"/>
<circle cx="508.79" cy="768.04" r="4.4" fill="#4d4d4d"/>
<rect x="501.59" y="756.04" width="14.4" height="12" fill="#fff"/>
<text x="508.79" y="766.34" font-size="12" text-anchor="middle" fill="#ee1c8c">27</text>
<rect x="302.02" y="840.44" width="37.3" height="129.06" fill="url(#gg)"/>
<rect x="302.02" y="840.44" width="37.3" height="129.06" fill="url(#xh2_4)"/>
<rect x="302.02" y="840.44" width="37.3" height="129.06" fill="none" stroke="#2a2a2a" stroke-width="1"/>
<circle cx="320.67" cy="840.44" r="4.4" fill="#4d4d4d"/>
<rect x="308.42" y="828.44" width="24.5" height="12" fill="#fff"/>
<text x="320.67" y="838.74" font-size="12" text-anchor="middle" fill="#ee1c8c">55.7</text>
<rect x="349.05" y="940.54" width="37.3" height="28.96" fill="url(#gg)"/>
<rect x="349.05" y="940.54" width="37.3" height="28.96" fill="url(#xh2_5)"/>
<rect x="349.05" y="940.54" width="37.3" height="28.96" fill="none" stroke="#2a2a2a" stroke-width="1"/>
<circle cx="367.7" cy="940.54" r="4.4" fill="#4d4d4d"/>
<rect x="355.45" y="928.54" width="24.5" height="12" fill="#fff"/>
<text x="367.7" y="938.84" font-size="12" text-anchor="middle" fill="#ee1c8c">12.5</text>
<rect x="490.14" y="923.16" width="37.3" height="46.34" fill="url(#gg)"/>
<rect x="490.14" y="923.16" width="37.3" height="46.34" fill="url(#xh2_8)"/>
<rect x="490.14" y="923.16" width="37.3" height="46.34" fill="none" stroke="#2a2a2a" stroke-width="1"/>
<circle cx="508.79" cy="923.16" r="4.4" fill="#4d4d4d"/>
<rect x="501.59" y="911.16" width="14.4" height="12" fill="#fff"/>
<text x="508.79" y="921.46" font-size="12" text-anchor="middle" fill="#ee1c8c">20</text>
<rect x="537.17" y="853.65" width="37.3" height="115.85" fill="url(#gg)"/>
<rect x="537.17" y="853.65" width="37.3" height="115.85" fill="url(#xh2_9)"/>
<rect x="537.17" y="853.65" width="37.3" height="115.85" fill="none" stroke="#2a2a2a" stroke-width="1"/>
<circle cx="555.82" cy="853.65" r="4.4" fill="#4d4d4d"/>
<rect x="548.62" y="841.65" width="14.4" height="12" fill="#fff"/>
<text x="555.82" y="851.95" font-size="12" text-anchor="middle" fill="#ee1c8c">50</text>
<circle cx="367.7" cy="691.5" r="4.4" fill="#4d4d4d"/>
<rect x="363.7" y="679.5" width="8" height="12" fill="#fff"/>
<text x="367.7" y="688.5" font-size="12" text-anchor="middle" fill="#ee1c8c">0</text>
<line x1="86.0" y1="691.5" x2="632.7" y2="691.5" stroke="#111" stroke-width="1.8"/>
<line x1="86.0" y1="830.6" x2="632.7" y2="830.6" stroke="#111" stroke-width="1.8"/>
<line x1="86.0" y1="969.5" x2="632.7" y2="969.5" stroke="#111" stroke-width="1.8"/>
<rect x="395.5" y="686.2" width="37.8" height="5.3" fill="#c4c4c4" stroke="#8a8a8a" stroke-width="1"/>
<rect x="394.5" y="807.9" width="41.1" height="22.7" fill="#c4c4c4" stroke="#8a8a8a" stroke-width="1"/>
<rect x="396" y="945.5" width="38.8" height="24" fill="#c4c4c4" stroke="#8a8a8a" stroke-width="1"/>
<rect x="309.17" y="828.44" width="23" height="11" fill="#fff"/>
<text x="320.67" y="838.74" font-size="12" text-anchor="middle" fill="#ee1c8c">55.7</text>
<rect x="406.3" y="666.7" width="18.8" height="30" fill="#000"/>
<text x="415.7" y="689.7" font-size="21.5" text-anchor="middle" fill="#ff0090">0</text>
<rect x="401.8" y="794.2" width="23.5" height="19.4" fill="#000"/>
<text x="413.55" y="809.7" font-size="15" text-anchor="middle" fill="#ff0090">9.2</text>
<rect x="398.8" y="929.3" width="31.9" height="19.6" fill="#000"/>
<text x="414.75" y="943.8" font-size="14" text-anchor="middle" fill="#ff0090">10.2</text>
<text x="413.5" y="663.6" font-size="10.5" text-anchor="middle" fill="#222">This work</text>
<text x="414.5" y="787.8" font-size="10.5" text-anchor="middle" fill="#222">This work</text>
<text x="417.5" y="921.3" font-size="10.5" text-anchor="middle" fill="#222">This work</text>
<line x1="86.0" y1="552.0" x2="86.0" y2="977.3" stroke="#111" stroke-width="2"/>
<line x1="78.0" y1="691.5" x2="86.0" y2="691.5" stroke="#111" stroke-width="1.5"/>
<text x="71.8" y="696.9" font-size="17.8" text-anchor="end" fill="#111">0</text>
<line x1="82.0" y1="679.91" x2="86.0" y2="679.91" stroke="#111" stroke-width="1.5"/>
<line x1="78.0" y1="668.33" x2="86.0" y2="668.33" stroke="#111" stroke-width="1.5"/>
<text x="71.8" y="673.73" font-size="17.8" text-anchor="end" fill="#111">10</text>
<line x1="82.0" y1="656.75" x2="86.0" y2="656.75" stroke="#111" stroke-width="1.5"/>
<line x1="78.0" y1="645.16" x2="86.0" y2="645.16" stroke="#111" stroke-width="1.5"/>
<text x="71.8" y="650.56" font-size="17.8" text-anchor="end" fill="#111">20</text>
<line x1="82.0" y1="633.58" x2="86.0" y2="633.58" stroke="#111" stroke-width="1.5"/>
<line x1="78.0" y1="621.99" x2="86.0" y2="621.99" stroke="#111" stroke-width="1.5"/>
<text x="71.8" y="627.39" font-size="17.8" text-anchor="end" fill="#111">30</text>
<line x1="82.0" y1="610.4" x2="86.0" y2="610.4" stroke="#111" stroke-width="1.5"/>
<line x1="78.0" y1="598.82" x2="86.0" y2="598.82" stroke="#111" stroke-width="1.5"/>
<text x="71.8" y="604.22" font-size="17.8" text-anchor="end" fill="#111">40</text>
<line x1="82.0" y1="587.24" x2="86.0" y2="587.24" stroke="#111" stroke-width="1.5"/>
<line x1="78.0" y1="575.65" x2="86.0" y2="575.65" stroke="#111" stroke-width="1.5"/>
<text x="71.8" y="581.05" font-size="17.8" text-anchor="end" fill="#111">50</text>
<line x1="82.0" y1="564.07" x2="86.0" y2="564.07" stroke="#111" stroke-width="1.5"/>
<line x1="78.0" y1="552.48" x2="86.0" y2="552.48" stroke="#111" stroke-width="1.5"/>
<text x="71.8" y="557.88" font-size="17.8" text-anchor="end" fill="#111">60</text>
<line x1="78.0" y1="830.6" x2="86.0" y2="830.6" stroke="#111" stroke-width="1.5"/>
<text x="71.8" y="836" font-size="17.8" text-anchor="end" fill="#111">0</text>
<line x1="82.0" y1="819.01" x2="86.0" y2="819.01" stroke="#111" stroke-width="1.5"/>
<line x1="78.0" y1="807.43" x2="86.0" y2="807.43" stroke="#111" stroke-width="1.5"/>
<text x="71.8" y="812.83" font-size="17.8" text-anchor="end" fill="#111">10</text>
<line x1="82.0" y1="795.85" x2="86.0" y2="795.85" stroke="#111" stroke-width="1.5"/>
<line x1="78.0" y1="784.26" x2="86.0" y2="784.26" stroke="#111" stroke-width="1.5"/>
<text x="71.8" y="789.66" font-size="17.8" text-anchor="end" fill="#111">20</text>
<line x1="82.0" y1="772.68" x2="86.0" y2="772.68" stroke="#111" stroke-width="1.5"/>
<line x1="78.0" y1="761.09" x2="86.0" y2="761.09" stroke="#111" stroke-width="1.5"/>
<text x="71.8" y="766.49" font-size="17.8" text-anchor="end" fill="#111">30</text>
<line x1="82.0" y1="749.5" x2="86.0" y2="749.5" stroke="#111" stroke-width="1.5"/>
<line x1="78.0" y1="737.92" x2="86.0" y2="737.92" stroke="#111" stroke-width="1.5"/>
<text x="71.8" y="743.32" font-size="17.8" text-anchor="end" fill="#111">40</text>
<line x1="82.0" y1="726.34" x2="86.0" y2="726.34" stroke="#111" stroke-width="1.5"/>
<line x1="78.0" y1="714.75" x2="86.0" y2="714.75" stroke="#111" stroke-width="1.5"/>
<text x="71.8" y="720.15" font-size="17.8" text-anchor="end" fill="#111">50</text>
<line x1="82.0" y1="703.16" x2="86.0" y2="703.16" stroke="#111" stroke-width="1.5"/>
<line x1="78.0" y1="969.5" x2="86.0" y2="969.5" stroke="#111" stroke-width="1.5"/>
<text x="71.8" y="974.9" font-size="17.8" text-anchor="end" fill="#111">0</text>
<line x1="82.0" y1="957.91" x2="86.0" y2="957.91" stroke="#111" stroke-width="1.5"/>
<line x1="78.0" y1="946.33" x2="86.0" y2="946.33" stroke="#111" stroke-width="1.5"/>
<text x="71.8" y="951.73" font-size="17.8" text-anchor="end" fill="#111">10</text>
<line x1="82.0" y1="934.75" x2="86.0" y2="934.75" stroke="#111" stroke-width="1.5"/>
<line x1="78.0" y1="923.16" x2="86.0" y2="923.16" stroke="#111" stroke-width="1.5"/>
<text x="71.8" y="928.56" font-size="17.8" text-anchor="end" fill="#111">20</text>
<line x1="82.0" y1="911.58" x2="86.0" y2="911.58" stroke="#111" stroke-width="1.5"/>
<line x1="78.0" y1="899.99" x2="86.0" y2="899.99" stroke="#111" stroke-width="1.5"/>
<text x="71.8" y="905.39" font-size="17.8" text-anchor="end" fill="#111">30</text>
<line x1="82.0" y1="888.4" x2="86.0" y2="888.4" stroke="#111" stroke-width="1.5"/>
<line x1="78.0" y1="876.82" x2="86.0" y2="876.82" stroke="#111" stroke-width="1.5"/>
<text x="71.8" y="882.22" font-size="17.8" text-anchor="end" fill="#111">40</text>
<line x1="82.0" y1="865.24" x2="86.0" y2="865.24" stroke="#111" stroke-width="1.5"/>
<line x1="78.0" y1="853.65" x2="86.0" y2="853.65" stroke="#111" stroke-width="1.5"/>
<text x="71.8" y="859.05" font-size="17.8" text-anchor="end" fill="#111">50</text>
<line x1="82.0" y1="842.07" x2="86.0" y2="842.07" stroke="#111" stroke-width="1.5"/>
<line x1="85.5" y1="969.5" x2="85.5" y2="977.3" stroke="#111" stroke-width="1.5"/>
<line x1="132.53" y1="969.5" x2="132.53" y2="977.3" stroke="#111" stroke-width="1.5"/>
<line x1="179.56" y1="969.5" x2="179.56" y2="977.3" stroke="#111" stroke-width="1.5"/>
<line x1="226.59" y1="969.5" x2="226.59" y2="977.3" stroke="#111" stroke-width="1.5"/>
<line x1="273.62" y1="969.5" x2="273.62" y2="977.3" stroke="#111" stroke-width="1.5"/>
<line x1="320.65" y1="969.5" x2="320.65" y2="977.3" stroke="#111" stroke-width="1.5"/>
<line x1="367.68" y1="969.5" x2="367.68" y2="977.3" stroke="#111" stroke-width="1.5"/>
<line x1="414.71" y1="969.5" x2="414.71" y2="977.3" stroke="#111" stroke-width="1.5"/>
<line x1="461.74" y1="969.5" x2="461.74" y2="977.3" stroke="#111" stroke-width="1.5"/>
<line x1="508.77" y1="969.5" x2="508.77" y2="977.3" stroke="#111" stroke-width="1.5"/>
<line x1="555.8" y1="969.5" x2="555.8" y2="977.3" stroke="#111" stroke-width="1.5"/>
<line x1="602.83" y1="969.5" x2="602.83" y2="977.3" stroke="#111" stroke-width="1.5"/>
<text transform="translate(145.75,996.2) rotate(-45)" font-size="17.4" text-anchor="end" fill="#111">Au@Ag</text>
<text transform="translate(192.78,996.2) rotate(-45)" font-size="17.4" text-anchor="end" fill="#111">Ag@hesperidin</text>
<text transform="translate(239.81,996.2) rotate(-45)" font-size="17.4" text-anchor="end" fill="#111">Ni@Ag</text>
<text transform="translate(283.64,999.4) rotate(-45)" font-size="17.4" text-anchor="end" fill="#111">SiO2@TiO2</text>
<text transform="translate(333.87,996.2) rotate(-45)" font-size="17.4" text-anchor="end" fill="#111">Pure ZnO surface</text>
<text transform="translate(380.9,996.2) rotate(-45)" font-size="17.4" text-anchor="end" fill="#111">Cu@Ag</text>
<text transform="translate(427.93,996.2) rotate(-45)" font-size="17.4" text-anchor="end" fill="#111">SiO2@ZnO</text>
<text transform="translate(474.96,996.2) rotate(-45)" font-size="17.4" text-anchor="end" fill="#111">CuO@polystyrene</text>
<text transform="translate(521.99,996.2) rotate(-45)" font-size="17.4" text-anchor="end" fill="#111">SiO2@TiO2</text>
<text transform="translate(569.02,996.2) rotate(-45)" font-size="17.4" text-anchor="end" fill="#111">Ag@ZnO</text>
<text transform="translate(43,859.4) rotate(-90)" font-size="21.6" fill="#111">Microbial growth (%)</text>
<text x="72.2" y="1124" font-size="21.7" fill="#111">Performance of various types of nanomaterials and CS</text>
<text x="353.2" y="1168.3" font-size="19.5" text-anchor="middle" style='font-family:"Liberation Serif", serif'>(f)</text>
</g>
</svg></body></html>
